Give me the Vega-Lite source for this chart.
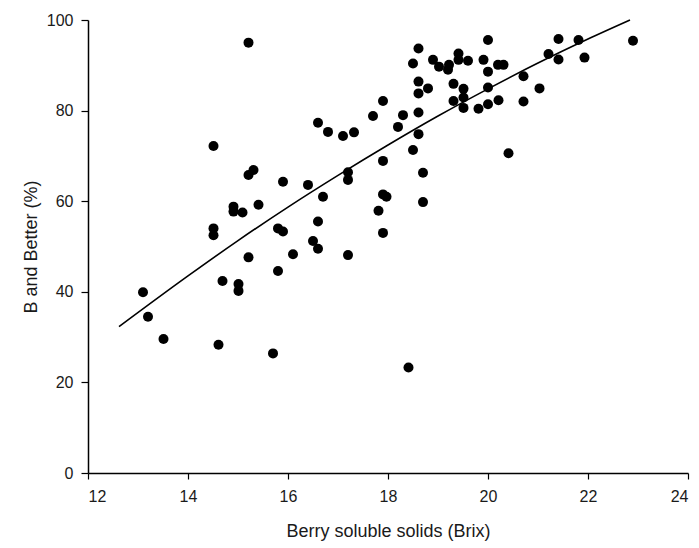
{
  "$schema": "https://vega.github.io/schema/vega-lite/v6.json",
  "autosize": "none",
  "width": 600,
  "height": 453,
  "padding": {"left": 88, "top": 20, "right": 11, "bottom": 75},
  "background": "white",
  "config": {
    "view": {"stroke": null},
    "axis": {
      "labelFont": "Liberation Sans",
      "titleFont": "Liberation Sans",
      "labelFontSize": 16,
      "titleFontSize": 18,
      "titleFontWeight": "normal",
      "labelColor": "#1a1a1a",
      "titleColor": "#1a1a1a",
      "domainColor": "black",
      "domainWidth": 1.5,
      "tickColor": "black",
      "tickWidth": 1.2,
      "grid": false
    }
  },
  "datasets": {
    "pts": [
      {"brix": 13.10, "pct": 39.9}, {"brix": 13.20, "pct": 34.5}, {"brix": 13.51, "pct": 29.6},
      {"brix": 14.51, "pct": 72.2}, {"brix": 14.51, "pct": 54.0}, {"brix": 14.51, "pct": 52.5},
      {"brix": 14.61, "pct": 28.3}, {"brix": 14.69, "pct": 42.4}, {"brix": 14.91, "pct": 58.8},
      {"brix": 14.91, "pct": 57.7}, {"brix": 15.01, "pct": 41.7}, {"brix": 15.01, "pct": 40.2},
      {"brix": 15.09, "pct": 57.5}, {"brix": 15.21, "pct": 95.0}, {"brix": 15.21, "pct": 65.8},
      {"brix": 15.31, "pct": 66.9}, {"brix": 15.21, "pct": 47.6}, {"brix": 15.41, "pct": 59.2},
      {"brix": 15.70, "pct": 26.4}, {"brix": 15.80, "pct": 54.0}, {"brix": 15.80, "pct": 44.6},
      {"brix": 15.90, "pct": 53.3}, {"brix": 15.90, "pct": 64.3}, {"brix": 16.10, "pct": 48.3},
      {"brix": 16.40, "pct": 63.6}, {"brix": 16.50, "pct": 51.2}, {"brix": 16.60, "pct": 49.5},
      {"brix": 16.60, "pct": 55.5}, {"brix": 16.60, "pct": 77.3}, {"brix": 16.70, "pct": 61.0},
      {"brix": 16.80, "pct": 75.3}, {"brix": 17.10, "pct": 74.4}, {"brix": 17.32, "pct": 75.2},
      {"brix": 17.20, "pct": 66.4}, {"brix": 17.20, "pct": 64.7}, {"brix": 17.20, "pct": 48.1},
      {"brix": 17.70, "pct": 78.8}, {"brix": 17.81, "pct": 57.9}, {"brix": 17.90, "pct": 82.1},
      {"brix": 17.90, "pct": 68.9}, {"brix": 17.90, "pct": 61.5}, {"brix": 17.97, "pct": 61.0},
      {"brix": 17.90, "pct": 53.0}, {"brix": 18.20, "pct": 76.4}, {"brix": 18.30, "pct": 79.0},
      {"brix": 18.41, "pct": 23.3}, {"brix": 18.50, "pct": 90.4}, {"brix": 18.50, "pct": 71.3},
      {"brix": 18.61, "pct": 93.7}, {"brix": 18.61, "pct": 86.4}, {"brix": 18.61, "pct": 83.8},
      {"brix": 18.61, "pct": 79.6}, {"brix": 18.61, "pct": 74.8}, {"brix": 18.70, "pct": 66.3},
      {"brix": 18.70, "pct": 59.8}, {"brix": 18.80, "pct": 84.9}, {"brix": 18.90, "pct": 91.2},
      {"brix": 19.02, "pct": 89.7}, {"brix": 19.22, "pct": 90.1}, {"brix": 19.20, "pct": 89.0},
      {"brix": 19.31, "pct": 85.9}, {"brix": 19.31, "pct": 82.1}, {"brix": 19.41, "pct": 92.6},
      {"brix": 19.41, "pct": 91.2}, {"brix": 19.51, "pct": 84.8}, {"brix": 19.51, "pct": 82.9},
      {"brix": 19.51, "pct": 80.6}, {"brix": 19.60, "pct": 91.0}, {"brix": 19.81, "pct": 80.4},
      {"brix": 19.91, "pct": 91.2}, {"brix": 20.00, "pct": 95.6}, {"brix": 20.00, "pct": 88.6},
      {"brix": 20.00, "pct": 85.1}, {"brix": 20.00, "pct": 81.4}, {"brix": 20.20, "pct": 90.1},
      {"brix": 20.31, "pct": 90.1}, {"brix": 20.21, "pct": 82.3}, {"brix": 20.41, "pct": 70.6},
      {"brix": 20.71, "pct": 87.6}, {"brix": 20.71, "pct": 82.0}, {"brix": 21.03, "pct": 84.9},
      {"brix": 21.21, "pct": 92.5}, {"brix": 21.41, "pct": 95.8}, {"brix": 21.41, "pct": 91.3},
      {"brix": 21.81, "pct": 95.6}, {"brix": 21.93, "pct": 91.7}, {"brix": 22.90, "pct": 95.4}
    ],
    "fit": [
      {"brix": 12.62, "pct": 32.3}, {"brix": 14, "pct": 43.5}, {"brix": 15, "pct": 51.3},
      {"brix": 16, "pct": 58.7}, {"brix": 17, "pct": 65.7}, {"brix": 18, "pct": 72.4},
      {"brix": 19, "pct": 78.8}, {"brix": 20, "pct": 84.8}, {"brix": 21, "pct": 90.5},
      {"brix": 22, "pct": 95.8}, {"brix": 22.84, "pct": 100.0}
    ]
  },
  "layer": [
    {
      "data": {"name": "fit"},
      "mark": {"type": "line", "color": "black", "strokeWidth": 1.6, "interpolate": "monotone"},
      "encoding": {
        "x": {"field": "brix", "type": "quantitative", "scale": {"domain": [12, 24], "nice": false, "zero": false},
              "axis": {"title": "Berry soluble solids (Brix)", "values": [12, 14, 16, 18, 20, 22, 24], "tickSize": 6, "labelPadding": 9, "titlePadding": 18}},
        "y": {"field": "pct", "type": "quantitative", "scale": {"domain": [0, 100], "nice": false},
              "axis": {"title": "B and Better (%)", "values": [0, 20, 40, 60, 80, 100], "tickSize": 7, "labelPadding": 8, "titlePadding": 6}}
      }
    },
    {
      "data": {"name": "pts"},
      "mark": {"type": "circle", "color": "black", "opacity": 1, "size": 100},
      "encoding": {
        "x": {"field": "brix", "type": "quantitative"},
        "y": {"field": "pct", "type": "quantitative"}
      }
    }
  ]
}
